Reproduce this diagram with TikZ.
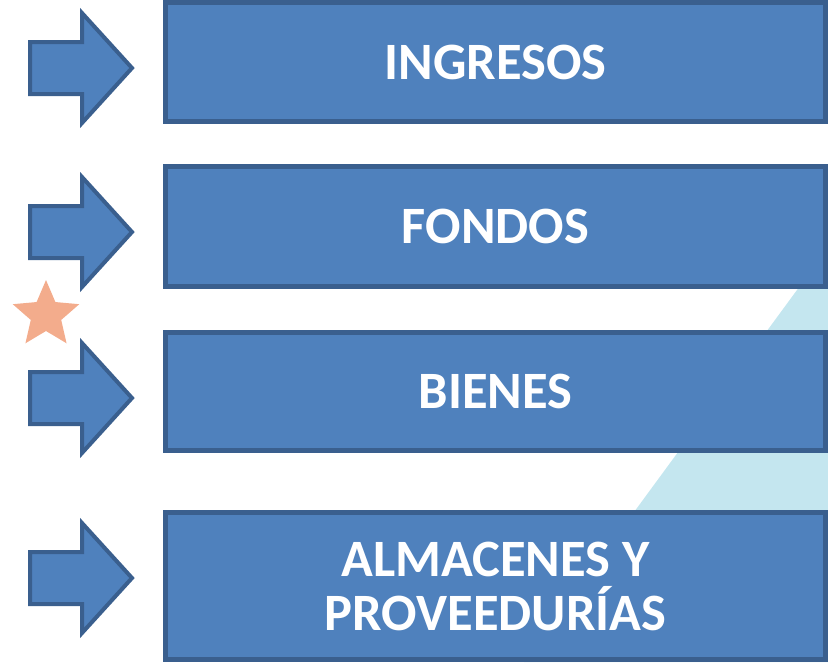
\documentclass[tikz,border=0pt]{standalone}
\usepackage{fontspec}
\setmainfont{Carlito}
\definecolor{boxfill}{HTML}{4F81BD}
\definecolor{boxline}{HTML}{3A5F8E}
\definecolor{lightbg}{HTML}{C4E6EF}
\definecolor{starcol}{HTML}{F3AC8C}
\begin{document}
\begin{tikzpicture}[x=1pt,y=-1pt,
  box/.style={draw=boxline,fill=boxfill,line width=5pt,minimum width=660pt,inner sep=0pt,
    text=white,font=\bfseries\fontsize{52.5}{54}\selectfont,align=center},
  arrowshape/.style={draw=boxline,fill=boxfill,line width=4pt,line join=miter}
]
\useasboundingbox (0,0) rectangle (828,662);
% light background wedge
\fill[lightbg] (819,260) -- (828,260) -- (828,662) -- (524,662) -- cycle;
% star
\fill[starcol] (46,315) +(90:-35) \foreach \i in {1,...,9} { -- +({-90+36*\i}:{ifthenelse(mod(\i,2)==1,16,35)}) } -- cycle;
% arrows
\foreach \cy/\nm in {68/a1,232/a2,398/a3,578/a4}{
  \draw[arrowshape] (30,\cy-26) -- (82,\cy-26) -- (82,\cy-55) -- (132,\cy) -- (82,\cy+55) -- (82,\cy+26) -- (30,\cy+26) -- cycle;
  \coordinate (\nm) at (132,\cy);
}
% boxes
\node[box,minimum height=119pt] (b1) at (495.5,62) {INGRESOS};
\node[box,minimum height=120pt] (b2) at (495.5,226.5) {FONDOS};
\node[box,minimum height=118pt] (b3) at (495.5,391.5) {BIENES};
\node[box,minimum height=147pt] (b4) at (495.5,586) {ALMACENES Y\\PROVEEDURÍAS};
\end{tikzpicture}
\end{document}
